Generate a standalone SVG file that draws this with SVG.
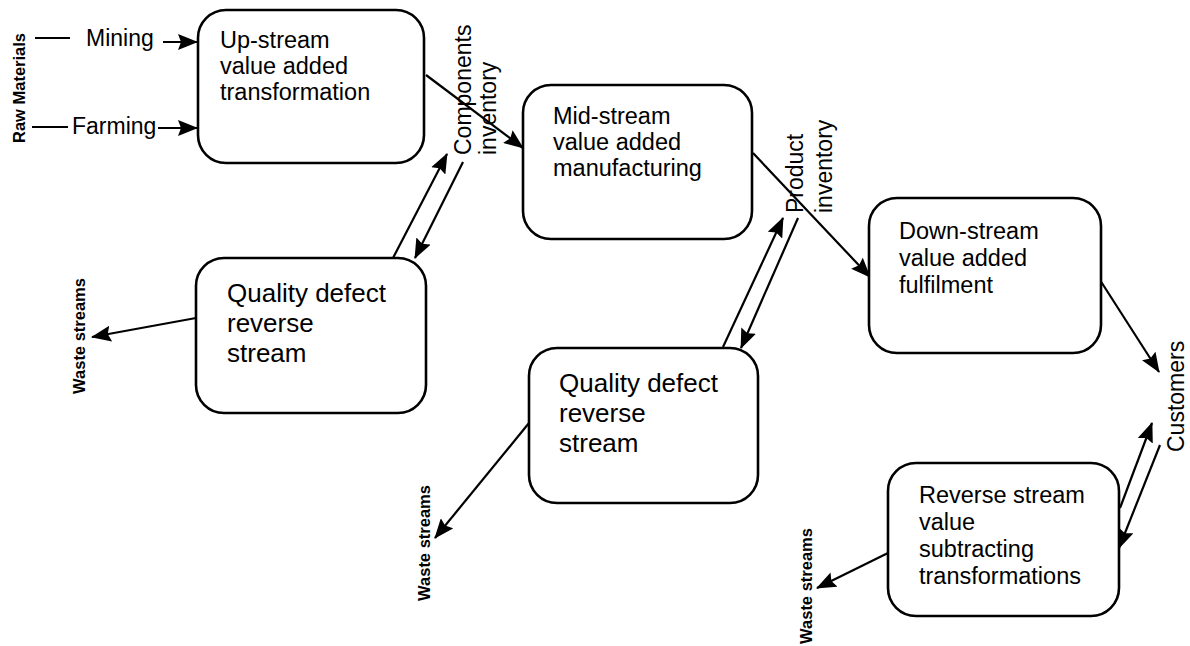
<svg xmlns="http://www.w3.org/2000/svg" width="1190" height="646" viewBox="0 0 1190 646">
<style>
.box{fill:#fff;stroke:#000;stroke-width:2.6}
.t{font-family:"Liberation Sans",Arial,sans-serif;font-size:23px;fill:#000}
.u{font-family:"Liberation Sans",Arial,sans-serif;font-size:23.5px;fill:#000}
.q{font-family:"Liberation Sans",Arial,sans-serif;font-size:26px;fill:#000}
.b{font-family:"Liberation Sans",Arial,sans-serif;font-size:16.5px;font-weight:bold;fill:#000}
.c{stroke:#000;stroke-width:2.2;fill:none}
</style>
<defs>
<marker id="ah" viewBox="0 0 20 16" refX="19" refY="8" markerWidth="20" markerHeight="16" markerUnits="userSpaceOnUse" orient="auto">
<path d="M0,0 L20,8 L0,16 L3,8 Z" fill="#000"/>
</marker>
</defs>
<rect width="1190" height="646" fill="#fff"/>
<g id="connectors">
<line class="c" x1="35" y1="38" x2="70" y2="38" stroke-width="1.5"/>
<line class="c" x1="32" y1="127" x2="68" y2="127" stroke-width="2.5"/>
<line class="c" x1="163" y1="42" x2="197" y2="42" marker-end="url(#ah)"/>
<line class="c" x1="158" y1="128" x2="197" y2="128" marker-end="url(#ah)"/>
<line class="c" x1="426" y1="75" x2="523" y2="148" marker-end="url(#ah)"/>
<line class="c" x1="393" y1="258" x2="447" y2="154" marker-end="url(#ah)"/>
<line class="c" x1="463" y1="162" x2="415" y2="258" marker-end="url(#ah)"/>
<line class="c" x1="753" y1="153" x2="870" y2="277" marker-end="url(#ah)"/>
<line class="c" x1="723" y1="347" x2="783" y2="218" marker-end="url(#ah)"/>
<line class="c" x1="798" y1="218" x2="741" y2="348" marker-end="url(#ah)"/>
<line class="c" x1="1100" y1="280" x2="1159" y2="372" marker-end="url(#ah)"/>
<line class="c" x1="1120" y1="508" x2="1152" y2="423" marker-end="url(#ah)"/>
<line class="c" x1="1160" y1="445" x2="1119" y2="548" marker-end="url(#ah)"/>
<line class="c" x1="196" y1="318" x2="92" y2="337" marker-end="url(#ah)"/>
<line class="c" x1="529" y1="423" x2="435" y2="538" marker-end="url(#ah)"/>
<line class="c" x1="888" y1="553" x2="817" y2="588" marker-end="url(#ah)"/>
</g>
<g id="raw-materials">
<text class="b" transform="translate(25,88) rotate(-90)" text-anchor="middle">Raw Materials</text>
</g>
<g id="mining"><text class="t" x="86" y="46">Mining</text></g>
<g id="farming"><text class="t" x="72" y="134">Farming</text></g>
<g id="upstream">
<rect class="box" x="198" y="10" width="226" height="153" rx="28"/>
<text class="u" x="220" y="48">Up-stream</text>
<text class="u" x="220" y="74">value added</text>
<text class="u" x="220" y="100">transformation</text>
</g>
<g id="components-inventory">
<text class="t" transform="translate(471,155) rotate(-90)">Components</text>
<text class="t" transform="translate(496,155) rotate(-90)">inventory</text>
</g>
<g id="midstream">
<rect class="box" x="523" y="85" width="229" height="154" rx="28"/>
<text class="u" x="553" y="124">Mid-stream</text>
<text class="u" x="553" y="150">value added</text>
<text class="u" x="553" y="176">manufacturing</text>
</g>
<g id="product-inventory">
<text class="t" transform="translate(803,213) rotate(-90)">Product</text>
<text class="t" transform="translate(832,213) rotate(-90)">inventory</text>
</g>
<g id="downstream">
<rect class="box" x="869" y="198" width="232" height="155" rx="28"/>
<text class="u" x="899" y="239">Down-stream</text>
<text class="u" x="899" y="266">value added</text>
<text class="u" x="899" y="293">fulfilment</text>
</g>
<g id="customers">
<text class="t" font-size="23.5" transform="translate(1184,452) rotate(-90)">Customers</text>
</g>
<g id="quality1">
<rect class="box" x="196" y="258" width="230" height="155" rx="28"/>
<text class="q" x="227" y="302">Quality defect</text>
<text class="q" x="227" y="332">reverse</text>
<text class="q" x="227" y="362">stream</text>
</g>
<g id="quality2">
<rect class="box" x="529" y="348" width="229" height="155" rx="28"/>
<text class="q" x="559" y="392">Quality defect</text>
<text class="q" x="559" y="422">reverse</text>
<text class="q" x="559" y="452">stream</text>
</g>
<g id="reverse">
<rect class="box" x="888" y="463" width="231" height="153" rx="28"/>
<text class="u" x="919" y="503">Reverse stream</text>
<text class="u" x="919" y="530">value</text>
<text class="u" x="919" y="557">subtracting</text>
<text class="u" x="919" y="584">transformations</text>
</g>
<g id="waste1"><text class="b" font-size="17" transform="translate(85,336) rotate(-90)" text-anchor="middle">Waste streams</text></g>
<g id="waste2"><text class="b" font-size="17" transform="translate(430,543) rotate(-90)" text-anchor="middle">Waste streams</text></g>
<g id="waste3"><text class="b" font-size="17" transform="translate(812,586) rotate(-90)" text-anchor="middle">Waste streams</text></g>
</svg>
